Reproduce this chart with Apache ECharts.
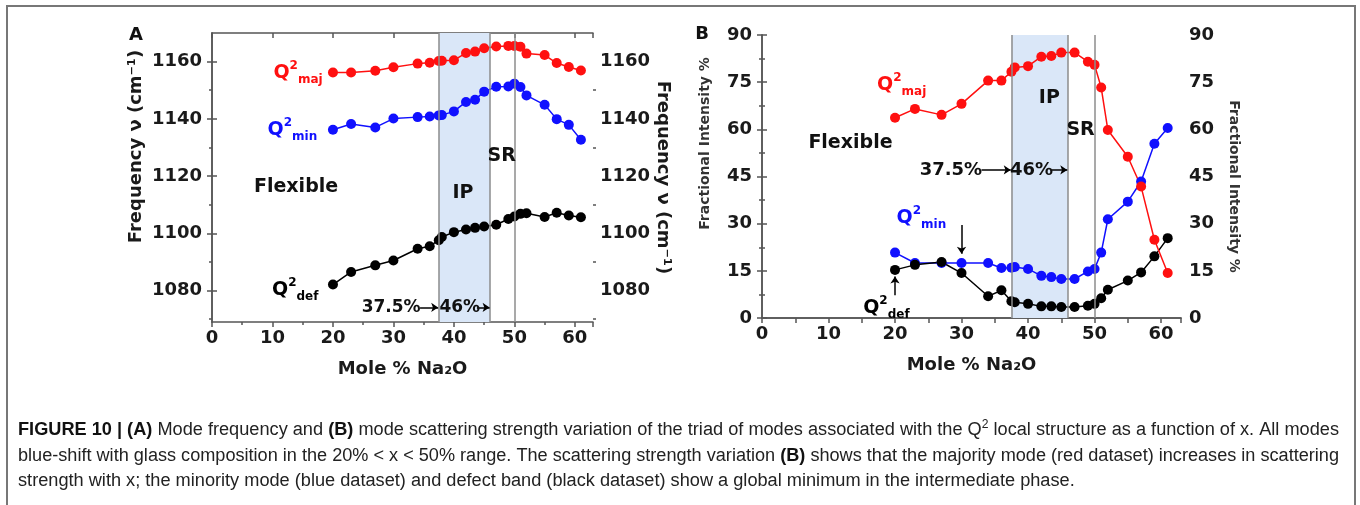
<!DOCTYPE html>
<html><head><meta charset="utf-8">
<script src="https://cdn.jsdelivr.net/npm/echarts@6/dist/echarts.min.js"></script>
<style>html,body{margin:0;padding:0;background:#fff}#c{width:1360px;height:505px}</style>
</head><body><div id="c"></div>
<script>
// ---------- data ----------
const xMole = [20,23,27,30,34,36,37.5,38,40,42,43.5,45,47,49,50,51,52,55,57,59,61];
const freqMaj = [1156.2,1156.2,1156.8,1158,1159.3,1159.6,1160.2,1160.3,1160.5,1163,1163.5,1164.7,1165.3,1165.5,1165.5,1165.2,1162.8,1162.3,1159.5,1158.1,1156.9];
const freqMin = [1136.2,1138.2,1137,1140.1,1140.6,1140.8,1141.2,1141.3,1142.6,1145.9,1146.7,1149.5,1151.2,1151.3,1152.3,1151.1,1148.2,1144.9,1139.9,1137.9,1132.7];
const freqDef = [1082.1,1086.5,1088.8,1090.5,1094.6,1095.5,1097.6,1098.7,1100.4,1101.3,1101.9,1102.4,1103,1105,1105.9,1106.8,1107,1105.7,1107.2,1106.2,1105.6];
const intMaj = [63.7,66.5,64.6,68.1,75.5,75.5,78.3,79.7,80.1,83.1,83.3,84.4,84.4,81.5,80.5,73.3,59.8,51.3,41.8,24.9,14.3];
const intMin = [20.8,17.5,17.5,17.5,17.5,15.9,16,16.2,15.6,13.4,13,12.4,12.4,14.8,15.6,20.8,31.4,37,43.4,55.4,60.4];
const intDef = [15.3,16.9,17.8,14.3,6.9,8.8,5.3,5,4.5,3.7,3.7,3.5,3.5,3.9,4.5,6.3,9,11.9,14.5,19.6,25.4];
const freqTicks = [1080,1100,1120,1140,1160];
const freqMinorTicks = [1070,1090,1110,1130,1150];
const ipBand = [37.5, 46];
const phaseBounds = [37.5, 46, 50];

// ---------- styles ----------
const F = '"DejaVu Sans", sans-serif';
const RED = '#ff1010', BLUE = '#1010ff', BLACK = '#000';
const AX = '#555';
const pairs = (xs, ys) => xs.map((x, i) => [x, ys[i]]);
const axisLine = {show: true, lineStyle: {color: AX, width: 1.5}};
const tickLine = {color: AX, width: 1.5};
const labelFont = {fontFamily: F, fontWeight: 'bold', fontSize: 18, color: '#1a1a1a', formatter: v => String(v)};
const nameFont = {fontFamily: F, fontWeight: 'bold', fontSize: 18, color: '#1a1a1a'};

function dataSeries(data, color, xi, yi) {
  return {type: 'line', xAxisIndex: xi, yAxisIndex: yi, data, symbol: 'circle', symbolSize: 10,
    itemStyle: {color, opacity: 1}, lineStyle: {color, width: 1.5}, z: 3, animation: false, silent: true};
}
function phaseSeries(xi, yi) {
  return {type: 'line', xAxisIndex: xi, yAxisIndex: yi, data: [], z: 1, silent: true, animation: false,
    markArea: {silent: true, itemStyle: {color: '#dae7f8'}, data: [[{xAxis: ipBand[0]}, {xAxis: ipBand[1]}]]},
    markLine: {silent: true, symbol: 'none', label: {show: false}, animation: false,
      lineStyle: {color: '#8c8c8c', width: 1.5, type: 'solid'}, data: phaseBounds.map(v => ({xAxis: v}))}};
}
const qRich = () => ({
  q: {fontFamily: F, fontWeight: 'bold', fontSize: 19, lineHeight: 26},
  s: {fontFamily: F, fontWeight: 'bold', fontSize: 12, lineHeight: 12, verticalAlign: 'top'},
  b: {fontFamily: F, fontWeight: 'bold', fontSize: 12, lineHeight: 12, verticalAlign: 'bottom'}
});
function qLabel(pos, sub, color) {
  return {value: pos, label: {show: true, position: 'left', distance: 0, color, opacity: 1,
    formatter: '{q|Q}{s|2}{b|' + sub + '}', rich: qRich()}};
}
function txt(pos, text, size, position) {
  return {value: pos, label: {show: true, position: position || 'inside', distance: 0, color: '#111', opacity: 1,
    textBorderWidth: 0, fontFamily: F, fontWeight: 'bold', fontSize: size, formatter: text}};
}
function annSeries(xi, yi, data, arrows) {
  return {type: 'scatter', xAxisIndex: xi, yAxisIndex: yi, symbolSize: 0, silent: true, z: 6, animation: false,
    itemStyle: {opacity: 1}, data,
    markLine: {silent: true, animation: false, symbol: ['none', 'arrow'], symbolSize: 7, label: {show: false},
      lineStyle: {color: '#000', width: 1.5, type: 'solid', opacity: 1},
      data: arrows.map(a => [{coord: a[0]}, {coord: a[1]}])}};
}

function xAxes(grid, topInterval) {
  return [
    {type: 'value', gridIndex: grid, position: 'bottom', min: 0, max: 63, interval: 10,
      axisLine, axisTick: {show: true, length: 5, lineStyle: tickLine},
      minorTick: {show: true, splitNumber: 2, length: 3, lineStyle: tickLine},
      splitLine: {show: false}, axisLabel: {...labelFont, margin: 7, showMaxLabel: false},
      name: 'Mole % Na₂O', nameLocation: 'middle', nameGap: 38, nameTextStyle: nameFont},
    {type: 'value', gridIndex: grid, position: 'top', min: 0, max: 63, interval: topInterval,
      axisLine, axisTick: {show: true, inside: true, length: 5, lineStyle: tickLine},
      splitLine: {show: false}, axisLabel: {show: false}}
  ];
}

const yAxes = [
  // panel A
  {type: 'value', gridIndex: 0, position: 'left', min: 1069, max: 1170, axisLine,
    axisTick: {show: true, length: 5, lineStyle: tickLine, customValues: freqTicks},
    axisLabel: {...labelFont, margin: 10, customValues: freqTicks}, splitLine: {show: false},
    name: 'Frequency ν (cm⁻¹)', nameLocation: 'middle', nameGap: 67, nameRotate: 90,
    nameTextStyle: {...nameFont, padding: [0, 0, 0, 62]}},
  {type: 'value', gridIndex: 0, position: 'right', min: 1069, max: 1170, axisLine,
    axisTick: {show: true, length: 5, lineStyle: tickLine, customValues: freqTicks},
    axisLabel: {...labelFont, margin: 7, customValues: freqTicks}, splitLine: {show: false},
    name: 'Frequency ν (cm⁻¹)', nameLocation: 'middle', nameGap: 61, nameRotate: -90,
    nameTextStyle: nameFont},
  {type: 'value', gridIndex: 0, position: 'left', min: 1069, max: 1170, axisLine: {show: false},
    axisTick: {show: true, length: 3, lineStyle: tickLine, customValues: freqMinorTicks},
    axisLabel: {show: false}, splitLine: {show: false}},
  {type: 'value', gridIndex: 0, position: 'right', min: 1069, max: 1170, axisLine: {show: false},
    axisTick: {show: true, length: 3, lineStyle: tickLine, customValues: freqMinorTicks},
    axisLabel: {show: false}, splitLine: {show: false}},
  // panel B
  {type: 'value', gridIndex: 1, position: 'left', min: 0, max: 90, interval: 15, axisLine,
    axisTick: {show: true, length: 5, lineStyle: tickLine},
    minorTick: {show: true, splitNumber: 2, length: 3, lineStyle: tickLine},
    axisLabel: {...labelFont, margin: 10}, splitLine: {show: false},
    name: 'Fractional Intensity %', nameLocation: 'middle', nameGap: 50, nameRotate: 90,
    nameTextStyle: {fontFamily: F, fontWeight: 'bold', fontSize: 14, color: '#333', padding: [0, 0, 0, 66]}},
  {type: 'value', gridIndex: 1, position: 'right', min: 0, max: 90, interval: 15, axisLine,
    axisTick: {show: true, length: 5, lineStyle: tickLine},
    minorTick: {show: true, splitNumber: 2, length: 3, lineStyle: tickLine},
    axisLabel: {...labelFont, margin: 8}, splitLine: {show: false},
    name: 'Fractional Intensity %', nameLocation: 'middle', nameGap: 46, nameRotate: -90,
    nameTextStyle: {fontFamily: F, fontWeight: 'bold', fontSize: 14, color: '#333', padding: [0, 0, 0, 20]}}
];

const series = [
  phaseSeries(0, 0),
  dataSeries(pairs(xMole, freqMaj), RED, 0, 0),
  dataSeries(pairs(xMole, freqMin), BLUE, 0, 0),
  dataSeries(pairs(xMole, freqDef), BLACK, 0, 0),
  annSeries(0, 0, [
    qLabel([18.3, 1156.1], 'maj', RED),
    qLabel([17.4, 1136.2], 'min', BLUE),
    qLabel([17.6, 1080.3], 'def', BLACK),
    txt([13.9, 1116], 'Flexible', 19),
    txt([41.5, 1114.2], 'IP', 19),
    txt([47.9, 1127.1], 'SR', 19),
    txt([34.5, 1074.1], '37.5%', 17, 'left'),
    txt([37.6, 1074.1], '46%', 17, 'right')
  ], [[[34.4, 1074.1], [37.4, 1074.1]], [[43.8, 1074.1], [45.9, 1074.1]]]),
  phaseSeries(2, 4),
  dataSeries(pairs(xMole, intMin), BLUE, 2, 4),
  dataSeries(pairs(xMole, intDef), BLACK, 2, 4),
  dataSeries(pairs(xMole, intMaj), RED, 2, 4),
  annSeries(2, 4, [
    qLabel([24.7, 74.1], 'maj', RED),
    qLabel([27.7, 31.9], 'min', BLUE),
    qLabel([22.2, 3.3], 'def', BLACK),
    txt([13.3, 55.7], 'Flexible', 19),
    txt([43.2, 70.0], 'IP', 19),
    txt([47.9, 59.8], 'SR', 19),
    txt([33.1, 47.1], '37.5%', 18, 'left'),
    txt([37.3, 47.1], '46%', 18, 'right')
  ], [[[33.0, 47.1], [37.4, 47.1]], [[43.5, 47.1], [45.9, 47.1]],
      [[30, 29.6], [30, 20.4]], [[20, 7.2], [20, 13.2]]])
];

// ---------- caption ----------
const CF = '"Liberation Sans Narrow", "Liberation Sans", Arial, sans-serif';
const CS = 18;
const capLines = [
  [['FIGURE 10 | (A)', 'b'], [' Mode frequency and ', 'n'], ['(B)', 'b'],
   [' mode scattering strength variation of the triad of modes associated with the Q', 'n'], ['2', 'sup'],
   [' local structure as a function of x. All modes', 'n']],
  [['blue-shift with glass composition in the 20% < x < 50% range. The scattering strength variation ', 'n'], ['(B)', 'b'],
   [' shows that the majority mode (red dataset) increases in scattering', 'n']],
  [['strength with x; the minority mode (blue dataset) and defect band (black dataset) show a global minimum in the intermediate phase.', 'n']]
];
const ctx = document.createElement('canvas').getContext('2d');
function measure(segs) {
  let w = 0;
  for (const [t, k] of segs) {
    ctx.font = (k === 'b' ? 'bold ' : '') + (k === 'sup' ? 12 : CS) + 'px ' + CF;
    w += ctx.measureText(t).width;
  }
  return w;
}
const capX = 18, capRight = 1339;
const s1 = (capRight - capX) / measure(capLines[0]);
const s2 = (capRight - capX) / measure(capLines[1]);
const capScale = [s1, s2, s1];
const capY = [430, 456, 481];
const capRich = {
  n: {fontFamily: CF, fontSize: CS, fill: '#222', lineHeight: 22},
  b: {fontFamily: CF, fontSize: CS, fontWeight: 'bold', fill: '#111', lineHeight: 22},
  sup: {fontFamily: CF, fontSize: 12, fill: '#222', lineHeight: 12, verticalAlign: 'top'}
};
const capGraphics = capLines.map((segs, i) => ({
  type: 'text', x: capX, y: capY[i], scaleX: capScale[i], silent: true,
  style: {text: segs.map(([t, k]) => '{' + k + '|' + t + '}').join(''), rich: capRich,
    font: CS + 'px ' + CF, fill: '#222', verticalAlign: 'middle', align: 'left'}
}));

const chart = echarts.init(document.getElementById('c'), null, {renderer: 'canvas'});
chart.setOption({
  animation: false,
  backgroundColor: '#fff',
  grid: [{left: 212, top: 33, width: 381, height: 289}, {left: 762, top: 35, width: 419, height: 283}],
  xAxis: [...xAxes(0, 10), ...xAxes(1, 5)],
  yAxis: yAxes,
  series,
  graphic: [
    {type: 'rect', silent: true, shape: {x: 7, y: 6, width: 1348, height: 560},
      style: {fill: 'none', stroke: '#777', lineWidth: 2}},
    {type: 'text', x: 136, y: 35, silent: true,
      style: {text: 'A', font: 'bold 18px ' + F, fill: '#111', align: 'center', verticalAlign: 'middle'}},
    {type: 'text', x: 702, y: 34, silent: true,
      style: {text: 'B', font: 'bold 18px ' + F, fill: '#111', align: 'center', verticalAlign: 'middle'}},
    ...capGraphics
  ]
});
</script></body></html>
